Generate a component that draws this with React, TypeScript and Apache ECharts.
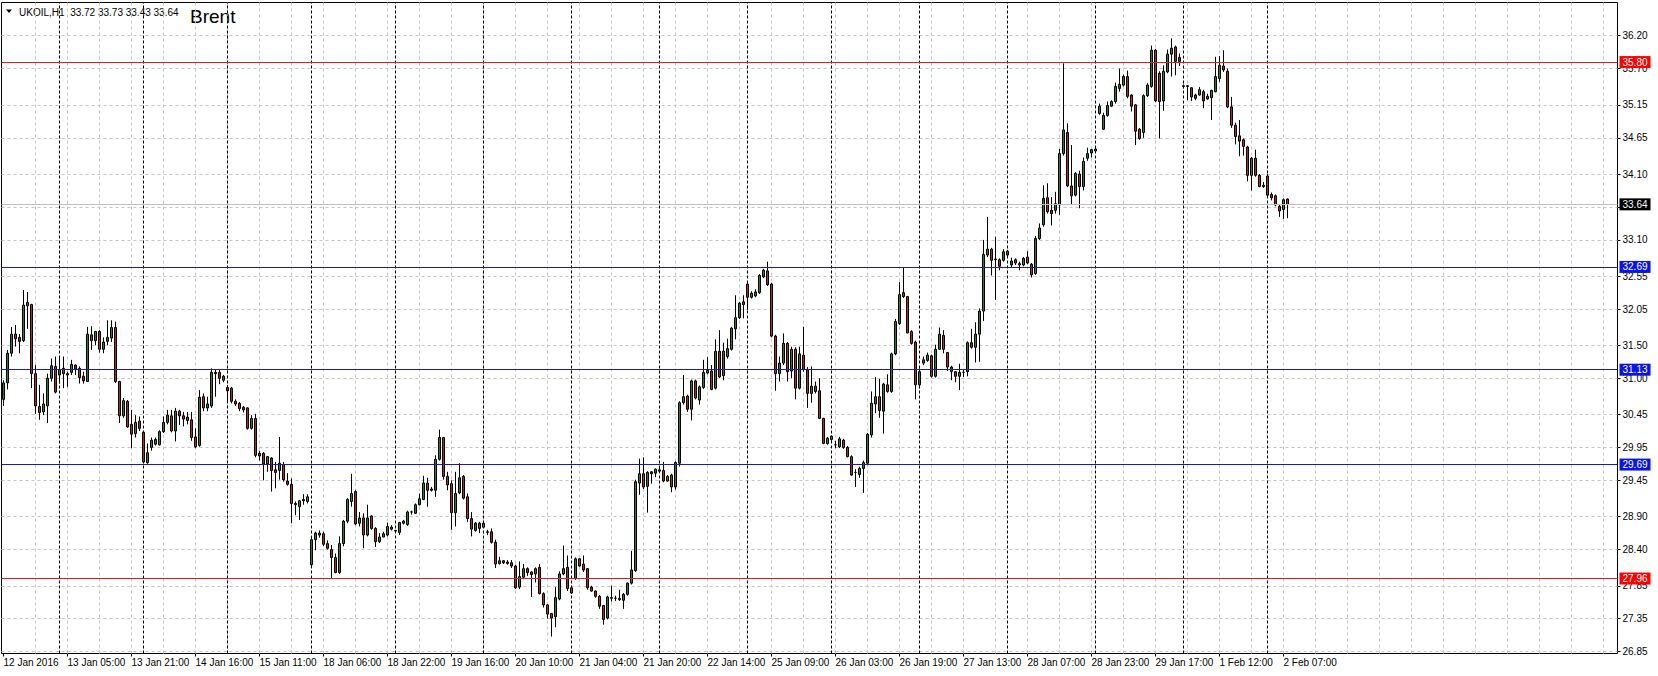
import React, { useEffect, useRef } from 'react';
import * as echarts from 'echarts';

// Hourly bars, one array per trading day: [open, high, low, close]
const d12Jan = [
  [30.68, 30.97, 30.58, 30.93], [30.93, 31.43, 30.83, 31.38], [31.38, 31.78, 31.33, 31.67], [31.67, 31.81, 31.48, 31.60],
  [31.62, 31.67, 31.38, 31.56], [31.57, 32.34, 31.55, 32.11], [32.10, 32.31, 31.75, 32.15], [32.12, 32.13, 30.85, 31.07],
  [31.07, 31.20, 30.46, 30.58], [30.57, 30.90, 30.37, 30.48], [30.49, 30.77, 30.44, 30.61], [30.58, 31.07, 30.32, 31.00],
  [31.00, 31.30, 30.95, 31.19], [31.18, 31.33, 30.77, 30.79],
];
const d13Jan = [
  [31.05, 31.33, 30.92, 31.13], [31.15, 31.33, 30.85, 31.07], [31.07, 31.10, 30.87, 31.05], [31.09, 31.28, 31.05, 31.21],
  [31.20, 31.21, 31.05, 31.14], [31.15, 31.18, 30.92, 31.01], [31.03, 31.10, 30.92, 30.96], [30.95, 31.78, 30.95, 31.67],
  [31.66, 31.79, 31.43, 31.57], [31.57, 31.72, 31.50, 31.71], [31.71, 31.73, 31.39, 31.44], [31.44, 31.62, 31.38, 31.55],
  [31.56, 31.88, 31.50, 31.62], [31.61, 31.88, 31.55, 31.77], [31.77, 31.86, 30.93, 30.95], [30.95, 30.96, 30.32, 30.43],
  [30.43, 30.70, 30.40, 30.66], [30.65, 30.67, 30.25, 30.26], [30.30, 30.52, 29.94, 30.15], [30.16, 30.44, 30.10, 30.33],
  [30.35, 30.42, 30.20, 30.24],
];
const d14Jan = [
  [30.18, 30.19, 29.71, 29.73], [29.72, 30.01, 29.70, 29.87], [29.95, 30.10, 29.90, 30.06], [30.00, 30.10, 29.98, 30.07],
  [29.99, 30.21, 29.98, 30.19], [30.19, 30.42, 30.17, 30.33], [30.33, 30.52, 30.30, 30.44], [30.43, 30.52, 30.18, 30.20],
  [30.20, 30.55, 30.04, 30.50], [30.50, 30.52, 30.29, 30.43], [30.43, 30.49, 30.27, 30.38], [30.41, 30.49, 30.30, 30.36],
  [30.37, 30.49, 30.05, 30.10], [30.11, 30.24, 29.94, 29.96], [29.98, 30.82, 29.96, 30.71], [30.72, 30.77, 30.50, 30.55],
  [30.55, 30.72, 30.50, 30.61], [30.58, 31.15, 30.55, 31.09], [31.09, 31.14, 30.72, 31.07], [31.09, 31.14, 30.91, 31.00],
  [30.97, 31.05, 30.94, 31.03],
];
const d15Jan = [
  [30.86, 30.90, 30.65, 30.81], [30.85, 30.87, 30.62, 30.65], [30.65, 30.68, 30.58, 30.61], [30.62, 30.64, 30.50, 30.54],
  [30.56, 30.58, 30.48, 30.52], [30.55, 30.56, 30.22, 30.24], [30.24, 30.44, 30.22, 30.39], [30.39, 30.46, 29.80, 29.83],
  [29.82, 29.90, 29.75, 29.86], [29.86, 29.88, 29.45, 29.70], [29.70, 29.82, 29.58, 29.81], [29.79, 29.80, 29.28, 29.60],
  [29.61, 29.73, 29.33, 29.57], [29.60, 30.11, 29.46, 29.71], [29.69, 29.73, 29.43, 29.46], [29.44, 29.56, 29.37, 29.39],
  [29.39, 29.48, 28.80, 29.10], [29.10, 29.13, 28.92, 29.08], [29.05, 29.15, 28.85, 29.14], [29.14, 29.24, 29.08, 29.16],
  [29.13, 29.24, 29.10, 29.20],
];
const d18Jan = [
  [28.17, 28.59, 28.14, 28.55], [28.55, 28.67, 28.39, 28.65], [28.65, 28.69, 28.58, 28.62], [28.64, 28.67, 28.45, 28.48],
  [28.49, 28.54, 28.40, 28.42], [28.40, 28.47, 27.96, 28.28], [28.28, 28.34, 28.04, 28.05], [28.05, 28.60, 28.03, 28.49],
  [28.49, 28.85, 28.45, 28.83], [28.83, 29.18, 28.80, 29.16], [29.13, 29.55, 29.05, 29.25], [29.28, 29.30, 28.77, 28.79],
  [28.80, 28.97, 28.75, 28.88], [28.88, 28.95, 28.42, 28.62], [28.62, 29.08, 28.60, 28.88], [28.91, 28.92, 28.70, 28.72],
  [28.72, 28.74, 28.44, 28.52], [28.52, 28.65, 28.50, 28.59], [28.59, 28.67, 28.59, 28.64], [28.62, 28.81, 28.60, 28.75],
  [28.74, 28.77, 28.69, 28.71],
];
const d19Jan = [
  [28.69, 28.70, 28.66, 28.68], [28.66, 28.82, 28.62, 28.81], [28.80, 28.85, 28.78, 28.83], [28.78, 28.99, 28.76, 28.97],
  [28.97, 28.99, 28.93, 28.97], [28.95, 29.10, 28.94, 29.08], [29.08, 29.25, 29.07, 29.17], [29.16, 29.52, 29.15, 29.41],
  [29.41, 29.49, 29.05, 29.30], [29.32, 29.35, 29.28, 29.30], [29.30, 29.83, 29.20, 29.77], [29.77, 30.22, 29.75, 30.10],
  [30.10, 30.11, 29.46, 29.51], [29.51, 29.58, 29.30, 29.38], [29.40, 29.45, 28.70, 28.96], [28.96, 29.58, 28.75, 29.25],
  [29.26, 29.71, 29.24, 29.49], [29.51, 29.53, 29.16, 29.18], [29.20, 29.25, 28.82, 28.87], [28.87, 28.97, 28.60, 28.71],
  [28.69, 28.82, 28.67, 28.80], [28.80, 28.82, 28.65, 28.72],
];
const d20Jan = [
  [28.74, 28.81, 28.73, 28.80], [28.67, 28.70, 28.62, 28.66], [28.67, 28.72, 28.49, 28.51], [28.51, 28.55, 28.12, 28.18],
  [28.19, 28.29, 28.17, 28.23], [28.23, 28.24, 28.18, 28.20], [28.21, 28.24, 28.17, 28.19], [28.20, 28.24, 28.12, 28.15],
  [28.15, 28.17, 27.80, 27.82], [27.83, 28.22, 27.80, 27.99], [27.98, 28.18, 27.95, 28.11], [28.11, 28.13, 28.00, 28.05],
  [28.06, 28.07, 27.68, 28.02], [28.03, 28.13, 27.90, 28.11], [28.13, 28.18, 27.72, 27.73], [27.73, 27.75, 27.52, 27.56],
  [27.56, 27.57, 27.35, 27.42], [27.43, 27.43, 27.08, 27.36], [27.38, 27.83, 27.22, 27.67], [27.65, 28.07, 27.63, 28.03],
  [28.03, 28.46, 28.01, 28.11], [28.13, 28.31, 27.77, 27.81],
];
const d21Jan = [
  [27.82, 27.85, 27.73, 27.74], [27.96, 28.28, 27.94, 28.26], [28.26, 28.27, 28.14, 28.15], [28.18, 28.31, 28.06, 28.09],
  [28.11, 28.12, 27.79, 27.82], [27.83, 27.85, 27.76, 27.77], [27.77, 27.78, 27.67, 27.69], [27.69, 27.71, 27.50, 27.54],
  [27.55, 27.56, 27.26, 27.34], [27.36, 27.70, 27.34, 27.68], [27.66, 27.85, 27.61, 27.67], [27.66, 27.70, 27.62, 27.66],
  [27.66, 27.79, 27.62, 27.64], [27.63, 27.74, 27.50, 27.72], [27.72, 27.90, 27.70, 27.89], [27.89, 28.38, 27.87, 28.09],
  [28.08, 29.46, 28.06, 29.43], [29.41, 29.78, 29.23, 29.55], [29.55, 29.80, 29.32, 29.35], [29.36, 29.59, 28.96, 29.57],
  [29.55, 29.59, 29.40, 29.58], [29.56, 29.63, 29.50, 29.62],
];
const d22Jan = [
  [29.61, 29.64, 29.57, 29.59], [29.60, 29.73, 29.42, 29.44], [29.44, 29.53, 29.43, 29.51], [29.53, 29.55, 29.27, 29.35],
  [29.35, 29.74, 29.31, 29.72], [29.71, 30.65, 29.66, 30.63], [30.63, 31.05, 30.60, 30.72], [30.73, 30.75, 30.49, 30.53],
  [30.53, 30.98, 30.36, 30.96], [30.96, 30.98, 30.68, 30.70], [30.67, 30.89, 30.60, 30.87], [30.86, 31.28, 30.84, 31.09],
  [31.08, 31.32, 31.06, 31.12], [31.11, 31.20, 30.82, 30.83], [30.85, 31.59, 30.83, 31.41], [31.41, 31.73, 31.00, 31.02],
  [31.04, 31.54, 30.97, 31.41], [31.33, 31.60, 31.30, 31.45], [31.44, 31.78, 31.42, 31.76], [31.75, 32.26, 31.59, 31.92],
  [31.92, 32.16, 31.90, 32.14], [32.16, 32.26, 31.91, 32.12],
];
const d25Jan = [
  [32.43, 32.44, 32.04, 32.23], [32.23, 32.32, 32.21, 32.29], [32.25, 32.35, 32.23, 32.31], [32.30, 32.58, 32.28, 32.56],
  [32.54, 32.66, 32.52, 32.64], [32.63, 32.77, 32.40, 32.42], [32.43, 32.45, 31.62, 31.64], [31.64, 31.66, 30.81, 31.07],
  [31.07, 31.33, 30.95, 31.23], [31.23, 31.68, 31.20, 31.53], [31.53, 31.55, 30.95, 31.10], [31.11, 31.48, 31.00, 31.44],
  [31.44, 31.47, 30.68, 30.85], [30.85, 31.48, 30.83, 31.37], [31.35, 31.78, 31.10, 31.13], [31.13, 31.17, 30.55, 30.77],
  [30.77, 31.18, 30.63, 30.88], [30.88, 30.95, 30.77, 30.80], [30.81, 31.00, 30.38, 30.39], [30.39, 30.40, 30.00, 30.01],
  [30.01, 30.11, 29.99, 30.09],
];
const d26Jan = [
  [30.07, 30.13, 30.05, 30.12], [29.99, 30.05, 29.94, 29.99], [29.96, 30.11, 29.94, 30.08], [30.06, 30.08, 29.93, 29.95],
  [29.95, 29.97, 29.80, 29.81], [29.81, 29.83, 29.52, 29.53], [29.57, 29.62, 29.35, 29.57], [29.54, 29.66, 29.49, 29.63],
  [29.63, 29.75, 29.26, 29.72], [29.71, 30.17, 29.69, 30.15], [30.14, 30.80, 30.10, 30.62], [30.61, 31.02, 30.47, 30.72],
  [30.72, 30.99, 30.40, 30.51], [30.50, 30.93, 30.16, 30.91], [30.90, 31.06, 30.78, 30.80], [30.80, 31.39, 30.78, 31.37],
  [31.37, 31.90, 31.35, 31.86], [31.83, 32.46, 31.81, 32.27], [32.30, 32.68, 32.22, 32.24], [32.24, 32.25, 31.68, 31.69],
  [31.71, 31.73, 31.51, 31.53], [31.55, 31.57, 30.68, 30.90],
];
const d27Jan = [
  [30.90, 31.15, 30.85, 31.10], [31.23, 31.33, 31.20, 31.28], [31.27, 31.39, 31.25, 31.35], [31.34, 31.36, 31.01, 31.03],
  [31.03, 31.51, 31.01, 31.44], [31.44, 31.77, 31.43, 31.67], [31.65, 31.73, 31.38, 31.44], [31.39, 31.40, 31.11, 31.17],
  [31.17, 31.19, 30.97, 31.10], [31.10, 31.11, 30.94, 31.03], [31.03, 31.22, 30.82, 31.09], [31.09, 31.13, 31.02, 31.09],
  [31.10, 31.56, 31.03, 31.54], [31.54, 31.75, 31.45, 31.47], [31.47, 31.85, 31.24, 31.67], [31.67, 32.06, 31.25, 32.02],
  [32.02, 33.10, 31.87, 32.88], [32.87, 33.45, 32.84, 32.96], [32.96, 32.98, 32.56, 32.79], [32.80, 33.15, 32.19, 32.81],
  [32.80, 32.82, 32.64, 32.70], [32.79, 32.96, 32.77, 32.92],
];
const d28Jan = [
  [32.93, 32.95, 32.84, 32.87], [32.72, 32.83, 32.68, 32.78], [32.80, 32.82, 32.72, 32.75], [32.74, 32.77, 32.64, 32.72],
  [32.72, 32.84, 32.70, 32.82], [32.84, 32.93, 32.73, 32.75], [32.73, 32.75, 32.53, 32.57], [32.59, 33.16, 32.57, 33.12],
  [33.12, 33.35, 33.10, 33.28], [33.33, 33.93, 33.30, 33.73], [33.74, 33.96, 33.50, 33.53], [33.55, 33.75, 33.32, 33.50],
  [33.55, 33.83, 33.50, 33.65], [33.63, 34.48, 33.48, 34.41], [34.41, 35.78, 34.38, 34.77], [34.73, 34.87, 33.90, 33.92],
  [33.92, 34.54, 33.63, 33.77], [33.78, 34.13, 33.76, 34.11], [34.10, 34.15, 33.58, 33.91], [33.91, 34.35, 33.85, 34.29],
  [34.34, 34.50, 34.30, 34.41], [34.42, 34.48, 34.35, 34.47],
];
const d29Jan = [
  [34.45, 34.50, 34.43, 34.48], [35.02, 35.17, 35.00, 35.13], [34.78, 35.03, 34.77, 34.99], [34.99, 35.20, 34.97, 35.14],
  [35.13, 35.22, 35.12, 35.20], [35.20, 35.49, 35.17, 35.43], [35.40, 35.70, 35.35, 35.46], [35.45, 35.61, 35.43, 35.58],
  [35.58, 35.67, 35.25, 35.28], [35.30, 35.31, 35.05, 35.13], [35.15, 35.16, 34.54, 34.75], [34.78, 34.80, 34.62, 34.64],
  [34.73, 35.31, 34.65, 35.29], [35.29, 35.48, 35.27, 35.45], [35.43, 36.05, 35.41, 35.98], [35.98, 36.00, 35.19, 35.21],
  [35.63, 35.66, 34.64, 35.20], [35.21, 35.75, 35.06, 35.66], [35.65, 35.99, 35.63, 35.92], [35.92, 36.16, 35.58, 36.01],
  [36.03, 36.05, 35.60, 35.81], [35.87, 35.93, 35.74, 35.81],
];
const d01Feb = [
  [35.43, 35.46, 35.40, 35.44], [35.44, 35.45, 35.22, 35.43], [35.41, 35.42, 35.21, 35.27], [35.25, 35.32, 35.22, 35.30],
  [35.30, 35.42, 35.29, 35.38], [35.35, 35.38, 35.10, 35.21], [35.24, 35.32, 35.23, 35.28], [35.26, 35.38, 34.92, 35.37],
  [35.35, 35.88, 35.34, 35.58], [35.55, 35.89, 35.50, 35.75], [35.74, 35.98, 35.65, 35.68], [35.66, 35.70, 35.10, 35.12],
  [35.12, 35.27, 34.80, 34.84], [34.84, 34.88, 34.55, 34.67], [34.68, 34.92, 34.37, 34.60], [34.62, 34.64, 34.38, 34.52],
  [34.51, 34.53, 33.99, 34.08], [34.08, 34.36, 33.85, 34.34], [34.34, 34.47, 34.06, 34.08], [34.08, 34.10, 33.90, 33.91],
  [33.91, 33.98, 33.89, 33.93],
];
const d02Feb = [
  [34.07, 34.10, 33.74, 33.78], [33.79, 33.82, 33.70, 33.74], [33.77, 33.79, 33.61, 33.63], [33.61, 33.63, 33.45, 33.54],
  [33.56, 33.73, 33.42, 33.71], [33.72, 33.73, 33.43, 33.64],
];

const days = [d12Jan, d13Jan, d14Jan, d15Jan, d18Jan, d19Jan, d20Jan, d21Jan, d22Jan, d25Jan, d26Jan, d27Jan, d28Jan, d29Jan, d01Feb, d02Feb];

const xTickLabels = [
  '12 Jan 2016', '13 Jan 05:00', '13 Jan 21:00', '14 Jan 16:00', '15 Jan 11:00', '18 Jan 06:00', '18 Jan 22:00',
  '19 Jan 16:00', '20 Jan 10:00', '21 Jan 04:00', '21 Jan 20:00', '22 Jan 14:00', '25 Jan 09:00', '26 Jan 03:00',
  '26 Jan 19:00', '27 Jan 13:00', '28 Jan 07:00', '28 Jan 23:00', '29 Jan 17:00', '1 Feb 12:00', '2 Feb 07:00',
];
const yTicks = [26.85, 27.35, 27.85, 28.40, 28.90, 29.45, 29.95, 30.45, 31.00, 31.50, 32.05, 32.55, 33.10, 33.60, 34.10, 34.65, 35.15, 35.70, 36.20];
const redLevels = [35.80, 27.96];
const blueLevels = [32.69, 31.13, 29.69];
const symbolName = 'UKOIL,H1';
const chartTitle = 'Brent';

const LABEL_EVERY = 16;
const GRID_EVERY = 8;
const SLOTS = 404;
const Y_MIN = 26.822;
const Y_MAX = 36.704;
const FONT = '"Liberation Sans", Arial, sans-serif';
const BULL = '#2b7a3b';
const BEAR = '#b0272d';
const RED_LINE = '#d42020';
const RED_BOX = '#ff0000';
const BLUE_LINE = '#1c1ca8';
const BLUE_BOX = '#0a14e8';

export default function App() {
  const ref = useRef<HTMLDivElement>(null);

  useEffect(() => {
    if (!ref.current) return;
    const chart = echarts.init(ref.current, undefined, { renderer: 'svg' });

    const bars = days.flat();
    const candles = bars.map(([o, h, l, c]) => [o, c, l, h]);
    const categories = Array.from({ length: SLOTS }, (_, i) => 'b' + i);
    const last = bars[bars.length - 1];
    const lastClose = last[3];

    const daySeps: number[] = [];
    let acc = 0;
    days.forEach((d, i) => {
      if (i > 0) daySeps.push(acc);
      acc += d.length;
    });

    const grayV: number[] = [];
    for (let i = GRID_EVERY; i < SLOTS; i += GRID_EVERY) grayV.push(i);

    const labelShown = (idx: number) => idx % LABEL_EVERY === 0 && idx / LABEL_EVERY < xTickLabels.length;

    const boxLabel = (text: string, bg: string) => ({
      show: true,
      position: 'end',
      distance: 2,
      formatter: text,
      color: '#fff',
      backgroundColor: bg,
      padding: [1, 3, 0, 3],
      fontSize: 10,
      lineHeight: 11,
      fontFamily: FONT,
    });

    const option: any = {
      animation: false,
      backgroundColor: '#ffffff',
      grid: {
        left: 1.5, top: 2.5, width: 1616, height: 651,
        show: true, borderColor: '#000', borderWidth: 1, backgroundColor: 'transparent',
      },
      xAxis: {
        type: 'category',
        data: categories,
        boundaryGap: true,
        axisLine: { show: false },
        axisTick: { show: true, alignWithLabel: true, interval: labelShown, length: 3, lineStyle: { color: '#000' } },
        axisLabel: {
          interval: labelShown,
          formatter: (_v: string, idx: number) => xTickLabels[idx / LABEL_EVERY] ?? '',
          color: '#000', fontSize: 10, fontFamily: FONT, align: 'left', margin: 4,
        },
        splitLine: { show: false },
      },
      yAxis: {
        type: 'value',
        position: 'right',
        min: Y_MIN,
        max: Y_MAX,
        scale: true,
        axisLine: { show: false },
        axisTick: { show: true, length: 3, customValues: yTicks, lineStyle: { color: '#000' } },
        axisLabel: {
          customValues: yTicks,
          formatter: (v: number) => v.toFixed(2),
          color: '#000', fontSize: 10, fontFamily: FONT, margin: 5,
        },
        splitLine: { show: false },
      },
      graphic: [
        { type: 'polygon', shape: { points: [[6, 9.5], [12, 9.5], [9, 13]] }, style: { fill: '#000' } },
        {
          type: 'text', x: 19, y: 12,
          style: {
            text: `${symbolName}  ${last.map((v) => v.toFixed(2)).join(' ')}`,
            font: `10px ${FONT}`, fill: '#000', verticalAlign: 'middle',
          },
        },
        {
          type: 'text', x: 190, y: 16,
          style: { text: chartTitle, font: `19px ${FONT}`, fill: '#000', verticalAlign: 'middle' },
        },
      ],
      series: [
        {
          type: 'line',
          data: [],
          silent: true,
          z: 1,
          markLine: {
            z: 1,
            silent: true,
            symbol: ['none', 'none'],
            animation: false,
            label: { show: false },
            data: [
              ...yTicks.map((v) => ({ yAxis: v, lineStyle: { color: '#c4c4c4', type: [3, 3], width: 1 } })),
              ...grayV.map((i) => ({ xAxis: i, lineStyle: { color: '#c4c4c4', type: [3, 3], width: 1 } })),
              ...daySeps.map((i) => ({ xAxis: i, lineStyle: { color: '#000', type: [3, 2], width: 1 } })),
            ],
          },
        },
        {
          type: 'candlestick',
          data: candles,
          z: 2,
          barWidth: 2,
          itemStyle: {
            color: BULL, color0: BEAR,
            borderColor: '#000', borderColor0: '#000', borderColorDoji: '#000', borderWidth: 1,
          },
        },
        {
          type: 'line',
          data: [],
          silent: true,
          z: 3,
          markLine: {
            z: 3,
            silent: true,
            symbol: ['none', 'none'],
            animation: false,
            data: [
              { yAxis: lastClose, lineStyle: { color: '#c0c0c0', type: 'solid', width: 1 }, label: boxLabel(lastClose.toFixed(2), '#000') },
              ...redLevels.map((v) => ({ yAxis: v, lineStyle: { color: RED_LINE, type: 'solid', width: 1 }, label: boxLabel(v.toFixed(2), RED_BOX) })),
              ...blueLevels.map((v) => ({ yAxis: v, lineStyle: { color: BLUE_LINE, type: 'solid', width: 1 }, label: boxLabel(v.toFixed(2), BLUE_BOX) })),
            ],
          },
        },
      ],
    };

    chart.setOption(option);
    return () => chart.dispose();
  }, []);

  return (
    <div
      ref={ref}
      style={{ position: 'absolute', left: 0, top: 0, width: 1658, height: 676, background: '#fff' }}
    />
  );
}
